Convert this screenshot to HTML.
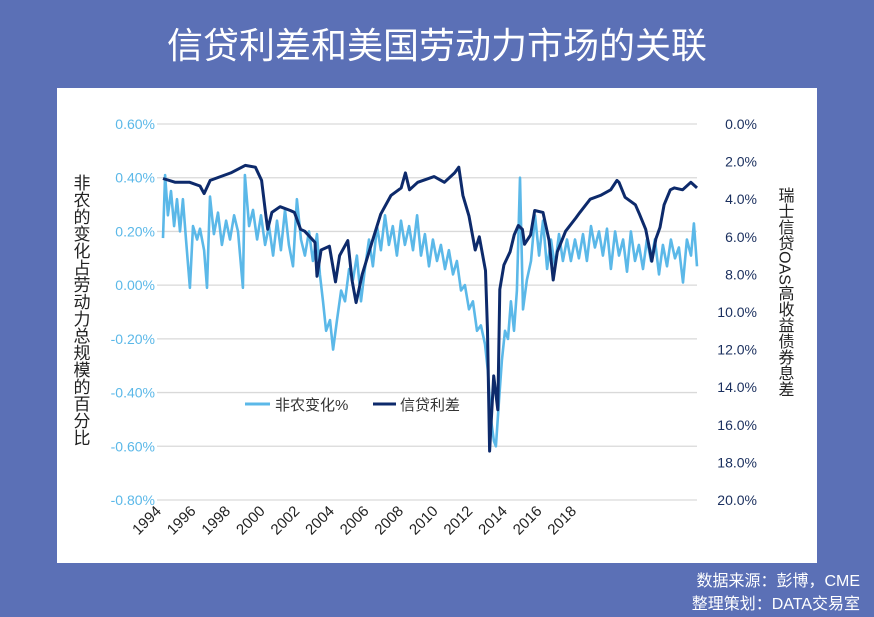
<!DOCTYPE html>
<html><head><meta charset="utf-8"><style>
body{margin:0;width:874px;height:617px;background:#5b70b6;overflow:hidden;font-family:"Liberation Sans","Noto Sans CJK SC",sans-serif}
</style></head><body>
<svg width="874" height="617" style="position:absolute;left:0;top:0">
<text x="437" y="58" text-anchor="middle" fill="#fff" font-size="36" font-family="'Liberation Sans','Noto Sans CJK SC',sans-serif">信贷利差和美国劳动力市场的关联</text>
<rect x="57" y="88" width="760" height="475" fill="#fff"/>
<g id="grid"></g><g id="series"></g><g id="axes"></g>
<text transform="translate(80,310)" fill="#222" font-size="17" style="writing-mode:tb" text-anchor="middle">非农的变化占劳动力总规模的百分比</text>
<text transform="translate(784,292)" fill="#222" font-size="16" style="writing-mode:tb" text-anchor="middle">瑞士信贷OAS高收益债券息差</text>
<g>
<line x1="245" y1="404" x2="270" y2="404" stroke="#5bb8e8" stroke-width="3"/>
<text x="275" y="410" font-size="15" fill="#333">非农变化%</text>
<line x1="373" y1="404" x2="396" y2="404" stroke="#0d2a6b" stroke-width="3"/>
<text x="400" y="410" font-size="15" fill="#333">信贷利差</text>
</g>
<text x="860" y="586" text-anchor="end" fill="#fff" font-size="16">数据来源：彭博，CME</text>
<text x="860" y="609" text-anchor="end" fill="#fff" font-size="16">整理策划：DATA交易室</text>
</svg>
<script>
const leftTicks=[0.6,0.4,0.2,0,-0.2,-0.4,-0.6,-0.8];
const leftTickLabels=["0.60%","0.40%","0.20%","0.00%","-0.20%","-0.40%","-0.60%","-0.80%"];
const rightTicks=[0,2,4,6,8,10,12,14,16,18,20];
const rightTickLabels=["0.0%","2.0%","4.0%","6.0%","8.0%","10.0%","12.0%","14.0%","16.0%","18.0%","20.0%"];
const xTickYears=[1994,1996,1998,2000,2002,2004,2006,2008,2010,2012,2014,2016,2018];
const spreadYears=[1994.0,1994.6,1995.3,1995.8,1996.0,1996.3,1997.3,1998.0,1998.5,1998.8,1999.0,1999.1,1999.3,1999.7,2000.2,2000.4,2000.7,2000.9,2001.4,2001.5,2001.7,2002.1,2002.4,2002.6,2003.0,2003.2,2003.4,2003.7,2004.2,2004.6,2005.1,2005.6,2005.8,2006.0,2006.4,2007.2,2007.7,2008.2,2008.4,2008.6,2008.9,2009.2,2009.4,2009.7,2009.8,2009.9,2010.1,2010.3,2010.4,2010.6,2010.9,2011.1,2011.3,2011.5,2011.6,2011.9,2012.1,2012.5,2012.8,2013.0,2013.2,2013.6,2014.1,2014.3,2014.8,2015.3,2015.8,2016.1,2016.2,2016.5,2017.0,2017.2,2017.5,2017.7,2017.8,2018.0,2018.2,2018.4,2018.7,2018.9,2019.3,2019.7,2020.0];
const spreadValues=[2.9,3.1,3.1,3.3,3.7,3.0,2.6,2.2,2.3,3.0,4.8,5.6,4.7,4.4,4.6,4.7,5.6,5.7,6.3,8.1,6.7,6.5,8.4,7.0,6.2,8.3,9.5,8.0,6.2,4.8,3.8,3.4,2.6,3.5,3.1,2.8,3.1,2.6,2.3,3.8,4.9,6.7,6.0,7.8,11.0,17.4,13.4,15.2,8.8,7.5,6.8,5.9,5.4,5.6,6.4,5.9,4.6,4.7,6.2,8.3,6.8,5.7,5.0,4.7,4.0,3.8,3.5,3.0,3.1,3.9,4.3,4.8,5.6,6.7,7.3,6.1,5.5,4.3,3.5,3.4,3.5,3.1,3.4];
const payrollYears=[1994.00,1994.10,1994.24,1994.39,1994.54,1994.68,1994.83,1994.97,1995.12,1995.31,1995.46,1995.66,1995.80,1996.00,1996.14,1996.29,1996.48,1996.68,1996.87,1997.07,1997.26,1997.46,1997.65,1997.89,1997.99,1998.19,1998.38,1998.58,1998.77,1998.97,1999.16,1999.36,1999.55,1999.74,1999.94,2000.13,2000.33,2000.52,2000.72,2000.91,2001.11,2001.30,2001.50,2001.64,2001.79,2001.94,2002.13,2002.28,2002.47,2002.67,2002.86,2003.06,2003.25,2003.44,2003.64,2003.83,2004.03,2004.22,2004.42,2004.61,2004.81,2005.00,2005.19,2005.39,2005.59,2005.78,2005.98,2006.17,2006.37,2006.56,2006.75,2006.95,2007.14,2007.34,2007.53,2007.73,2007.92,2008.12,2008.31,2008.51,2008.70,2008.90,2009.09,2009.29,2009.48,2009.68,2009.82,2009.97,2010.11,2010.21,2010.36,2010.50,2010.65,2010.80,2010.94,2011.09,2011.23,2011.38,2011.53,2011.72,2011.92,2012.11,2012.31,2012.50,2012.70,2012.89,2013.08,2013.28,2013.47,2013.67,2013.86,2014.06,2014.25,2014.45,2014.64,2014.84,2015.03,2015.23,2015.42,2015.62,2015.81,2016.01,2016.20,2016.40,2016.59,2016.78,2016.98,2017.17,2017.37,2017.56,2017.76,2017.95,2018.15,2018.34,2018.54,2018.73,2018.93,2019.12,2019.32,2019.51,2019.71,2019.85,2020.00];
const payrollValues=[0.175,0.41,0.26,0.35,0.22,0.32,0.20,0.32,0.17,-0.01,0.22,0.17,0.21,0.13,-0.01,0.33,0.19,0.27,0.15,0.24,0.17,0.26,0.20,-0.01,0.41,0.22,0.28,0.17,0.26,0.15,0.22,0.11,0.24,0.13,0.28,0.15,0.07,0.32,0.17,0.11,0.20,0.09,0.19,0.04,-0.06,-0.17,-0.13,-0.24,-0.13,-0.02,-0.06,0.06,0.02,0.11,-0.06,0.06,0.17,0.07,0.22,0.13,0.26,0.15,0.22,0.11,0.24,0.15,0.22,0.13,0.26,0.11,0.19,0.07,0.17,0.09,0.15,0.06,0.13,0.04,0.09,-0.02,0.00,-0.09,-0.06,-0.17,-0.15,-0.22,-0.32,-0.50,-0.58,-0.60,-0.43,-0.28,-0.17,-0.20,-0.06,-0.17,-0.02,0.40,-0.09,0.02,0.09,0.26,0.11,0.24,0.06,0.17,0.07,0.19,0.09,0.17,0.09,0.17,0.10,0.19,0.09,0.22,0.14,0.20,0.11,0.21,0.06,0.20,0.11,0.17,0.05,0.20,0.09,0.15,0.06,0.17,0.09,0.17,0.04,0.15,0.07,0.17,0.10,0.14,0.01,0.17,0.11,0.23,0.07];

const NS="http://www.w3.org/2000/svg";
const X0=163,X1=697,Y0=124,Y1=500;
const xScale=y=>X0+(y-1994)/(2020-1994)*(X1-X0);
const yLeft=v=>Y0+(0.6-v)/(1.4)*(Y1-Y0);
const yRight=v=>Y0+v/20*(Y1-Y0);
const labelX=y=>162+(y-1994)*17.3;
function mk(tag,attrs,parent){const e=document.createElementNS(NS,tag);for(const k in attrs)e.setAttribute(k,attrs[k]);parent.appendChild(e);return e;}
const grid=document.getElementById('grid'),axes=document.getElementById('axes'),series=document.getElementById('series');
leftTicks.forEach((v,i)=>{
 const l=mk('line',{x1:157,x2:697,y1:yLeft(v),y2:yLeft(v),stroke:'#d9d9d9','stroke-width':1.3},grid);
 
 
 const t=mk('text',{x:155,y:yLeft(v)+5,'text-anchor':'end',fill:'#5bb8e8','font-size':14},axes);
 t.textContent=leftTickLabels[i];
 
 
});
rightTicks.forEach((v,i)=>{
 const t=mk('text',{x:757,y:yRight(v)+5,'text-anchor':'end',fill:'#1a2f5e','font-size':14},axes);
 t.textContent=rightTickLabels[i];
 
 
});
xTickYears.forEach(y=>{
 const x=labelX(y);
 const t=mk('text',{x:x,y:512,'text-anchor':'end',fill:'#222','font-size':15,transform:`rotate(-45 ${x} 512)`},axes);
 t.textContent=y;
 
 
});
const lp=payrollYears.map((y,i)=>xScale(y).toFixed(1)+','+yLeft(payrollValues[i]).toFixed(1)).join(' ');
const p1=mk('polyline',{points:lp,fill:'none',stroke:'#5bb8e8','stroke-width':2.6,'stroke-linejoin':'round'},series);


const dp=spreadYears.map((y,i)=>xScale(y).toFixed(1)+','+yRight(spreadValues[i]).toFixed(1)).join(' ');
const p2=mk('polyline',{points:dp,fill:'none',stroke:'#0d2a6b','stroke-width':3,'stroke-linejoin':'round'},series);


</script>
</body></html>
